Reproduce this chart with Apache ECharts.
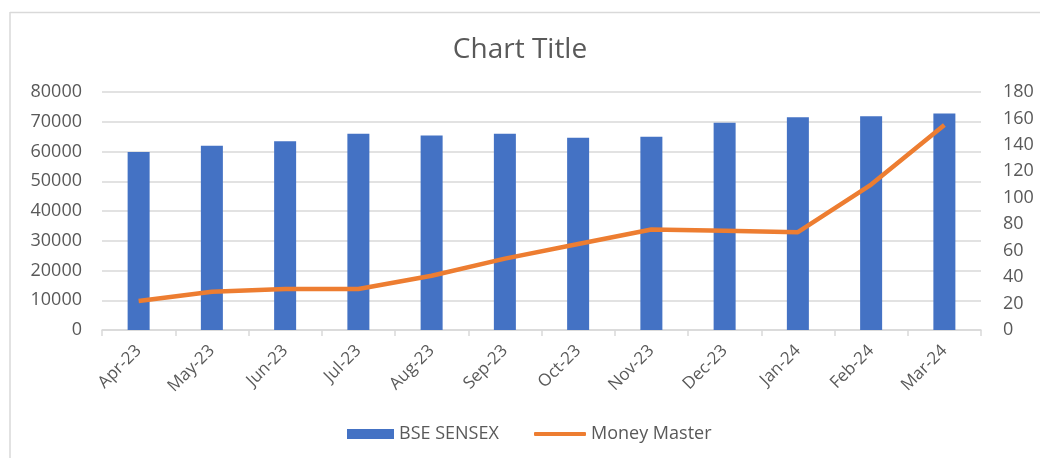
<!DOCTYPE html>
<html>
<head>
<meta charset="utf-8">
<script src="https://cdn.jsdelivr.net/npm/echarts@6/dist/echarts.min.js"></script>
<style>
  html, body { margin: 0; padding: 0; background: #fff; }
  #chart { width: 1040px; height: 458px; }
</style>
</head>
<body>
<div id="chart"></div>
<script>
// data
const months = ["Apr-23", "May-23", "Jun-23", "Jul-23", "Aug-23", "Sep-23",
  "Oct-23", "Nov-23", "Dec-23", "Jan-24", "Feb-24", "Mar-24"];
const sensex = [59850, 61900, 63450, 66000, 65350, 65950, 64650, 65000, 69650, 71500, 71850, 72750];
const moneyMaster = [22, 29, 31, 31, 41, 54, 65, 76, 75, 74, 110, 155];

const gray = "#595959";
const font = "Open Sans";
const legendText = { fontFamily: font, fontSize: 18, color: gray };

let chart = echarts.init(document.getElementById("chart"));
chart.setOption({
  animation: false,
  backgroundColor: "#fff",
  title: {
    text: "Chart Title",
    left: "center",
    top: 31,
    textStyle: { fontFamily: font, fontSize: 28, fontWeight: "normal", color: gray }
  },
  // two legends so each icon gets its own size
  legend: [
    {
      left: 347,
      top: 425,
      padding: 0,
      itemWidth: 47,
      itemHeight: 10,
      textStyle: legendText,
      data: [{ name: "BSE SENSEX", icon: "rect" }]
    },
    {
      left: 534,
      top: 425,
      padding: 0,
      itemWidth: 52,
      itemHeight: 4,
      textStyle: legendText,
      data: [{ name: "Money Master", icon: "roundRect" }]
    }
  ],
  grid: { left: 102, right: 59, top: 92, bottom: 128 },
  xAxis: {
    type: "category",
    data: months,
    axisLine: { lineStyle: { color: "#d9d9d9", width: 1.5 } },
    axisTick: { show: true, length: 6, lineStyle: { color: "#d9d9d9", width: 1.5 } },
    axisLabel: { rotate: 45, margin: 18, fontFamily: font, fontSize: 17, color: gray }
  },
  yAxis: [
    {
      type: "value",
      min: 0, max: 80000, interval: 10000,
      axisLine: { show: false },
      axisTick: { show: false },
      splitLine: { lineStyle: { color: "#d9d9d9", width: 1.5 } },
      axisLabel: { margin: 20, fontFamily: font, fontSize: 18, color: gray, formatter: v => String(v) }
    },
    {
      type: "value",
      min: 0, max: 180, interval: 20,
      axisLine: { show: false },
      axisTick: { show: false },
      splitLine: { show: false },
      axisLabel: { margin: 22, fontFamily: font, fontSize: 18, color: gray }
    }
  ],
  series: [
    {
      name: "BSE SENSEX",
      type: "bar",
      data: sensex,
      barWidth: 22,
      itemStyle: { color: "#4472C4" }
    },
    {
      name: "Money Master",
      type: "line",
      yAxisIndex: 1,
      data: moneyMaster,
      symbol: "none",
      lineStyle: { color: "#ED7D31", width: 4.5 },
      itemStyle: { color: "#ED7D31" }
    }
  ],
  graphic: [
    { type: "line", shape: { x1: 10, y1: 12.5, x2: 1040, y2: 12.5 }, style: { stroke: "#d9d9d9", lineWidth: 1.5 } },
    { type: "line", shape: { x1: 10, y1: 12, x2: 10, y2: 458 }, style: { stroke: "#d9d9d9", lineWidth: 1.5 } }
  ]
});
</script>
</body>
</html>
